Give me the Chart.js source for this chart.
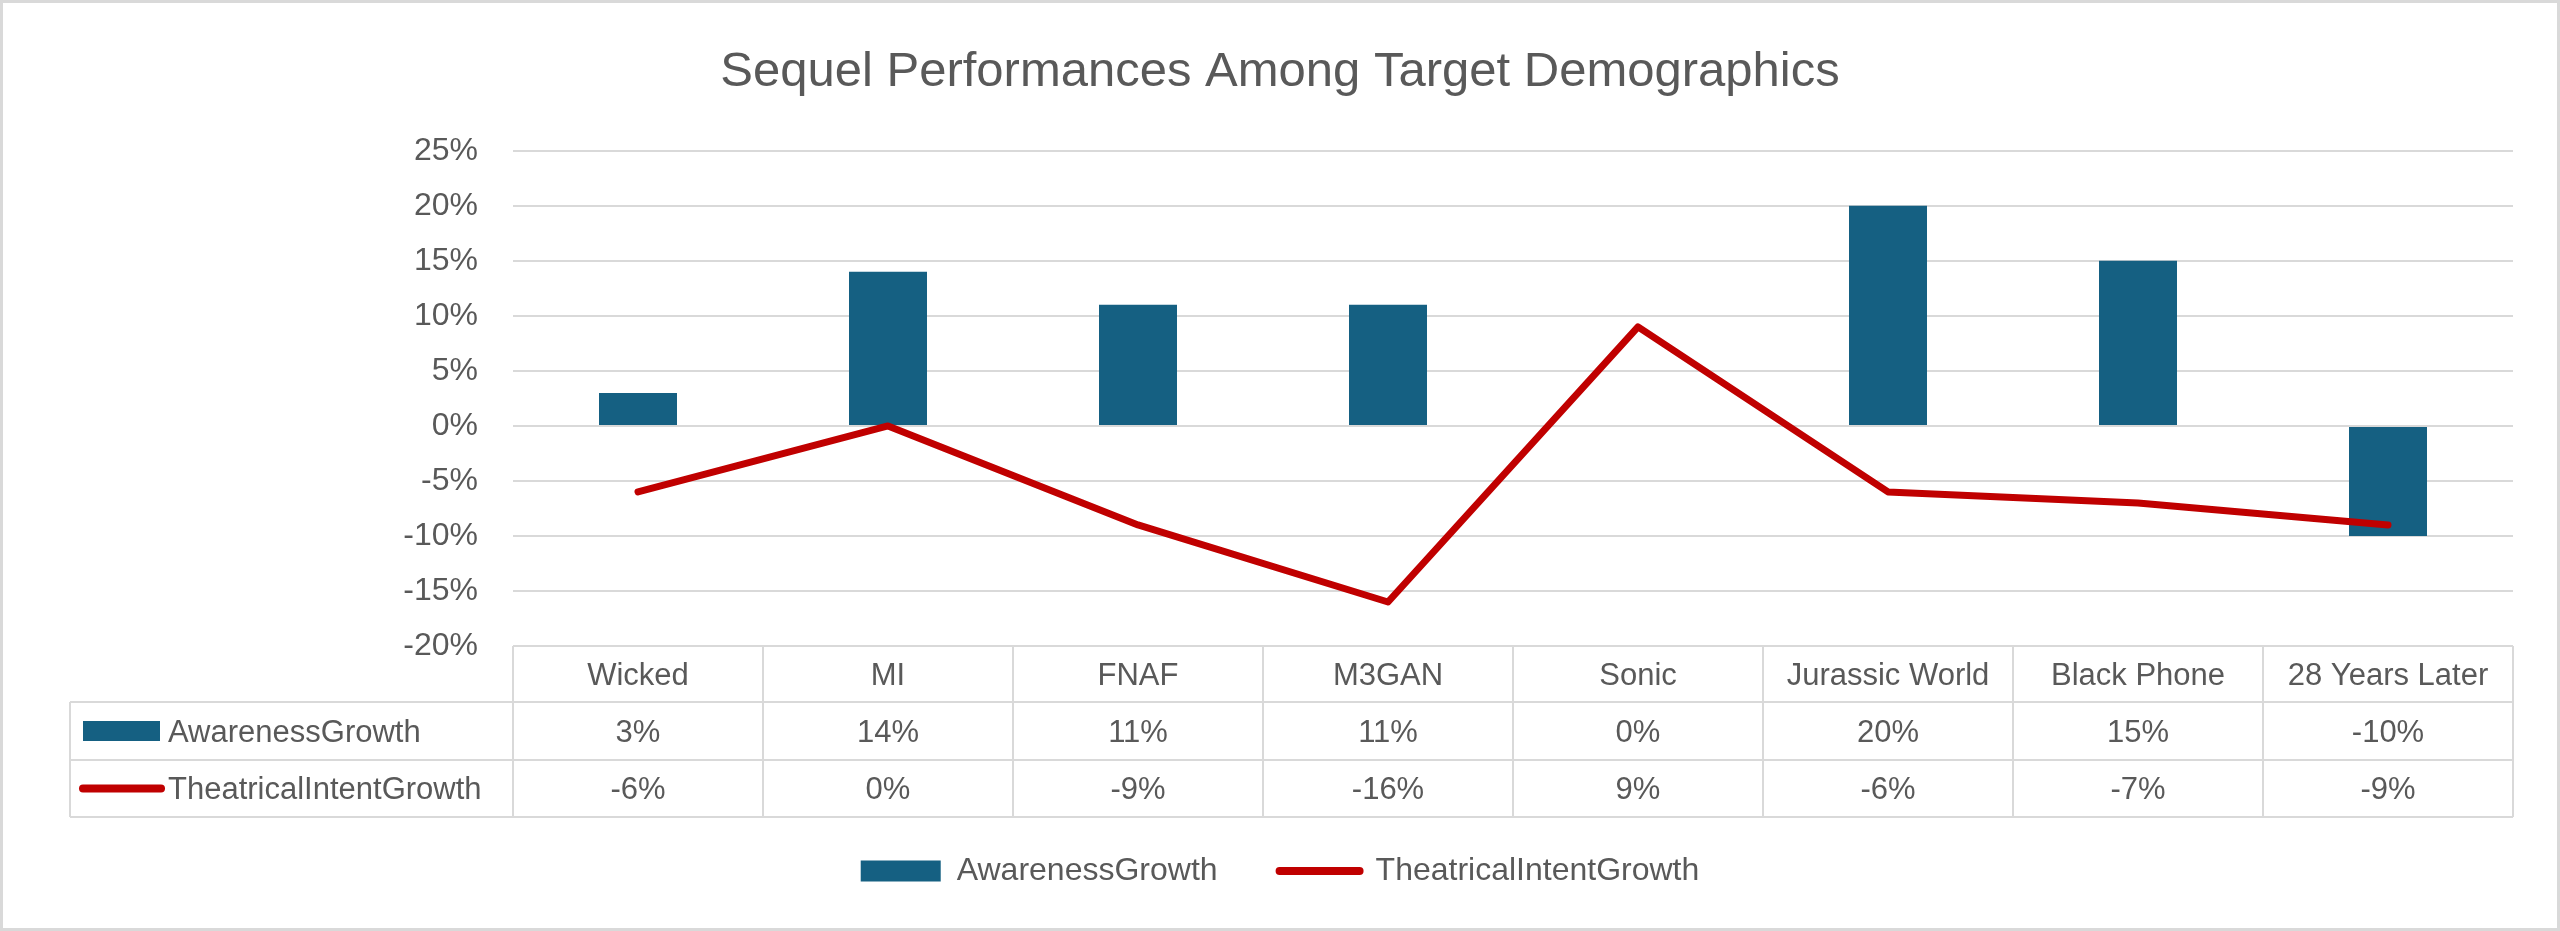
<!DOCTYPE html>
<html>
<head>
<meta charset="utf-8">
<script src="https://cdn.jsdelivr.net/npm/chart.js@4.4.1/dist/chart.umd.min.js"></script>
<style>
  html, body { margin: 0; padding: 0; background: #fff; }
  #chart { display: block; }
</style>
</head>
<body>
<canvas id="chart" width="2560" height="931"></canvas>
<script>
const movies = ["Wicked", "MI", "FNAF", "M3GAN", "Sonic", "Jurassic World", "Black Phone", "28 Years Later"];
const awarenessGrowth = [3, 14, 11, 11, 0, 20, 15, -10];
const theatricalIntentGrowth = [-6, 0, -9, -16, 9, -6, -7, -9];
const seriesNames = ["AwarenessGrowth", "TheatricalIntentGrowth"];

const textColor = "#595959";
const lineGray = "#d9d9d9";
const barColor = "#156082";
const redColor = "#c00000";
const fontFamily = "'Liberation Sans', Arial, sans-serif";

const ctx = document.getElementById("chart");

// white background + light outer border
const frame = {
  id: "frame",
  beforeDraw(chart) {
    const c = chart.ctx;
    c.save();
    c.fillStyle = "#fff";
    c.fillRect(0, 0, chart.width, chart.height);
    c.strokeStyle = lineGray;
    c.lineWidth = 3;
    c.strokeRect(1.5, 1.5, chart.width - 3, chart.height - 3);
    c.restore();
  },
};

// data table under the plot, lined up with the x scale
const dataTable = {
  id: "dataTable",
  afterDraw(chart) {
    const c = chart.ctx;
    const area = chart.chartArea;
    const x = chart.scales.x;
    const half = (x.getPixelForValue(1) - x.getPixelForValue(0)) / 2;
    const left = 70;
    const right = x.getPixelForValue(movies.length - 1) + half;
    const rows = [area.bottom, area.bottom + 56, area.bottom + 114, area.bottom + 171];

    c.save();
    c.strokeStyle = lineGray;
    c.lineWidth = 2;
    c.beginPath();
    c.moveTo(area.left, rows[0]);
    c.lineTo(right, rows[0]);
    for (let r = 1; r < rows.length; r++) {
      c.moveTo(left, rows[r]);
      c.lineTo(right, rows[r]);
    }
    c.moveTo(left, rows[1]);
    c.lineTo(left, rows[3]);
    for (let i = 0; i <= movies.length; i++) {
      const px = x.getPixelForValue(0) - half + i * half * 2;
      c.moveTo(px, rows[0]);
      c.lineTo(px, rows[3]);
    }
    c.stroke();

    c.fillStyle = textColor;
    c.font = "31px " + fontFamily;
    c.textAlign = "center";
    c.textBaseline = "middle";
    movies.forEach((m, i) => {
      const cx = x.getPixelForValue(i);
      c.fillText(m, cx, (rows[0] + rows[1]) / 2 + 2);
      c.fillText(awarenessGrowth[i] + "%", cx, (rows[1] + rows[2]) / 2 + 2);
      c.fillText(theatricalIntentGrowth[i] + "%", cx, (rows[2] + rows[3]) / 2 + 2);
    });

    // row keys
    const y1 = (rows[1] + rows[2]) / 2;
    const y2 = (rows[2] + rows[3]) / 2;
    c.fillStyle = barColor;
    c.fillRect(83, y1 - 10, 77, 20);
    c.strokeStyle = redColor;
    c.lineWidth = 8;
    c.lineCap = "round";
    c.beginPath();
    c.moveTo(83, y2);
    c.lineTo(161, y2);
    c.stroke();
    c.fillStyle = textColor;
    c.textAlign = "left";
    c.fillText(seriesNames[0], 168, y1 + 2);
    c.fillText(seriesNames[1], 168, y2 + 2);
    c.restore();
  },
};

const chart = new Chart(ctx, {
  type: "bar",
  data: {
    labels: movies,
    datasets: [
      {
        type: "bar",
        label: seriesNames[0],
        data: awarenessGrowth,
        backgroundColor: barColor,
        borderWidth: 0,
        categoryPercentage: 1,
        barPercentage: 0.312,
        order: 2,
      },
      {
        type: "line",
        label: seriesNames[1],
        data: theatricalIntentGrowth,
        borderColor: redColor,
        backgroundColor: redColor,
        borderWidth: 7,
        borderCapStyle: "round",
        borderJoinStyle: "round",
        pointRadius: 0,
        pointHoverRadius: 0,
        tension: 0,
        order: 1,
      },
    ],
  },
  plugins: [frame, dataTable],
  options: {
    responsive: false,
    devicePixelRatio: 1,
    animation: false,
    layout: {
      padding: { left: 0, right: 0, top: 0, bottom: 34 },
    },
    scales: {
      x: {
        grid: { display: false },
        border: { display: false },
        ticks: { display: false },
        afterFit: (scale) => {
          scale.height = 147;
        },
      },
      y: {
        min: -20,
        max: 25,
        ticks: {
          stepSize: 5,
          padding: 35,
          color: textColor,
          font: { family: fontFamily, size: 32 },
          callback: (v) => v + "%",
        },
        grid: { color: lineGray, lineWidth: 2, drawTicks: false },
        border: { display: false },
        afterFit: (scale) => {
          scale.width = 513;
        },
      },
      // empty right-hand spacer so title and legend stay centred on the whole canvas
      spacer: {
        position: "right",
        grid: { display: false },
        border: { display: false },
        ticks: { display: false },
        afterFit: (scale) => {
          scale.width = 47;
        },
      },
    },
    plugins: {
      tooltip: { enabled: false },
      title: {
        display: true,
        text: "Sequel Performances Among Target Demographics",
        color: textColor,
        font: { family: fontFamily, size: 49, weight: "normal" },
        padding: { top: 43, bottom: 49 },
      },
      legend: {
        position: "bottom",
        labels: {
          color: textColor,
          font: { family: fontFamily, size: 32 },
          usePointStyle: true,
          pointStyleWidth: 80,
          boxHeight: 21,
          padding: 62,
          generateLabels: (chart) => {
            const items = Chart.defaults.plugins.legend.labels.generateLabels(chart);
            items.sort((a, b) => a.datasetIndex - b.datasetIndex);
            items.forEach((it) => {
              if (it.datasetIndex === 0) {
                it.pointStyle = "rect";
                it.lineWidth = 0;
              } else {
                it.pointStyle = "line";
                it.lineWidth = 8;
                it.lineCap = "round";
              }
            });
            return items;
          },
        },
      },
    },
  },
});
</script>
</body>
</html>
